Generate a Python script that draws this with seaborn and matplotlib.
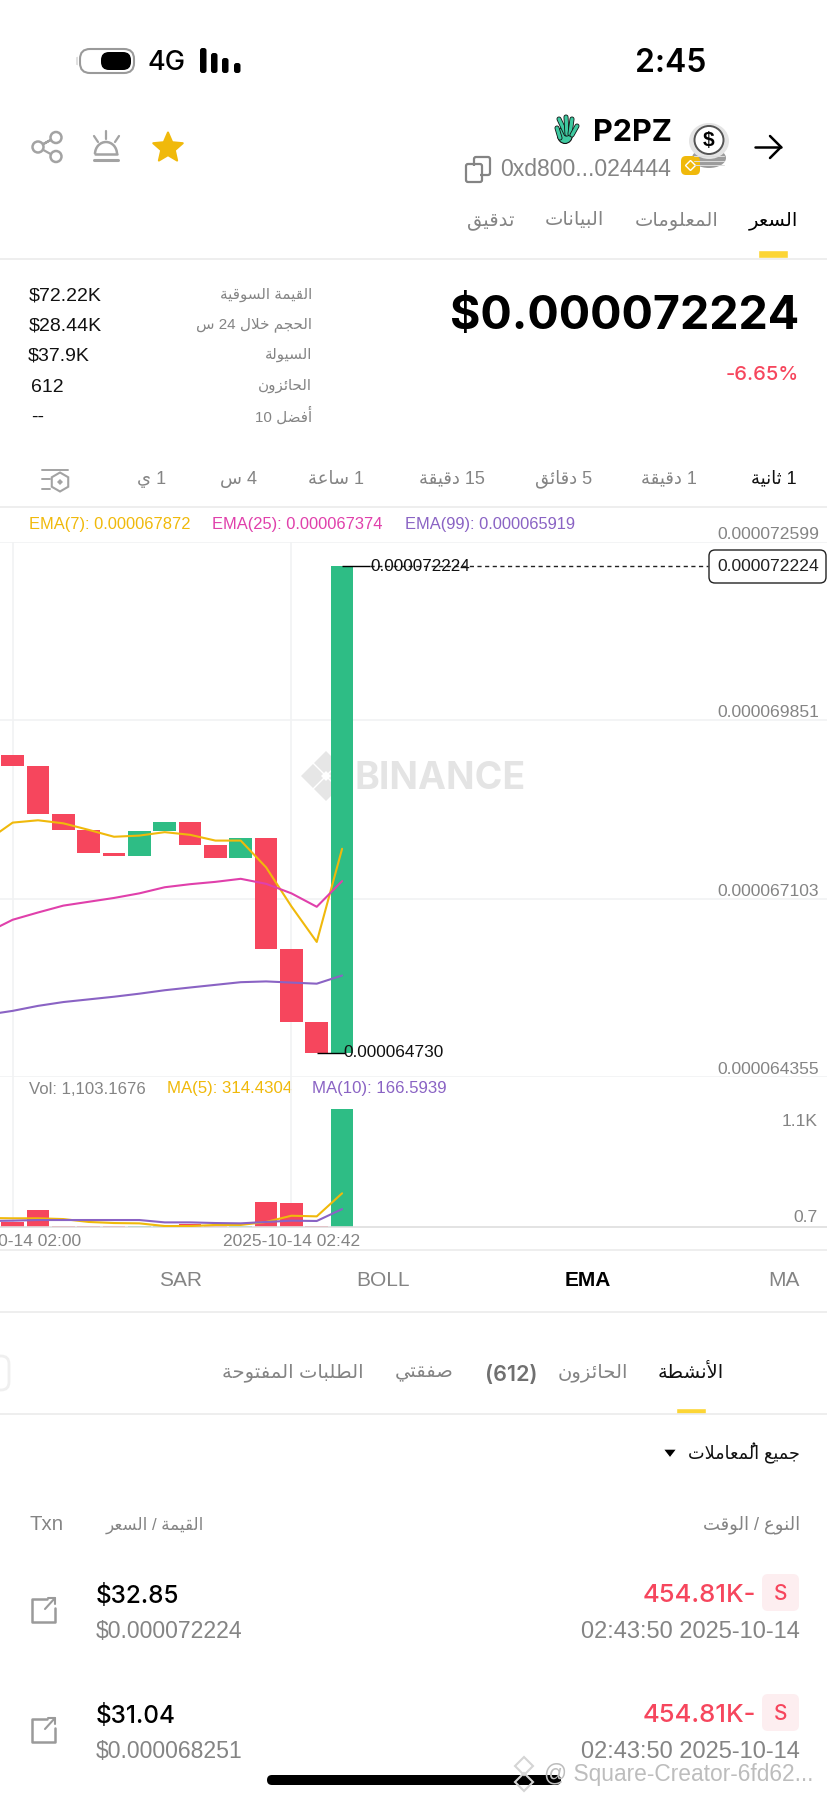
import re
import numpy as np
import pandas as pd
import seaborn as sns
import matplotlib
matplotlib.use("Agg")
import matplotlib.pyplot as plt
from matplotlib.patches import FancyBboxPatch, Circle, Polygon, Arc, Ellipse, RegularPolygon

# ---------- data ----------
opens_nano  = [69313, 69142, 68411, 68158, 67804, 67757, 68140, 68287, 67933, 67727, 68034, 66324, 65197, 64730]
closes_nano = [69142, 68411, 68158, 67804, 67757, 68140, 68287, 67933, 67727, 68034, 66324, 65197, 64730, 72224]
candle_idx = list(range(14))
ema_idx = list(range(-1, 14))
ema7_nano  = [68000, 68275, 68311, 68264, 68163, 68057, 68075, 68128, 68087, 67998, 67998, 67586, 66984, 66436, 67872]
ema25_nano = [66583, 66778, 66890, 66996, 67055, 67114, 67185, 67279, 67326, 67362, 67409, 67332, 67185, 66978, 67374]
ema99_nano = [65315, 65374, 65451, 65510, 65551, 65592, 65639, 65692, 65734, 65775, 65816, 65828, 65810, 65793, 65919]
volumes = [43, 158, 10, 7, 6, 8, 5, 30, 10, 8, 232, 223, 10, 1103]
ma5_vol  = [84, 81, 81, 74, 47, 37, 34, 9, 9, 19, 19, 47, 105, 99, 314]
ma10_vol = [56, 59, 65, 65, 65, 65, 65, 43, 43, 37, 34, 47, 59, 56, 167]
price_ticks_nano = [72599, 69851, 67103, 64355]
price_tick_labels = ["0.000072599", "0.000069851", "0.000067103", "0.000064355"]
time_tick_idx = [0, 11]
time_tick_labels = ["2025-10-14 02:00", "2025-10-14 02:42"]
high_nano, low_nano = 72224, 64730

RED, GREEN = "#f6465d", "#2ebd85"
YEL, PINK, PURP = "#f0b90b", "#e040ab", "#8a63c4"
GRID = "#f1f2f3"
GREY = "#848484"
W, H = 828, 1800

sns.set_theme(style="white")
plt.rcParams["font.family"] = ["Liberation Sans", "DejaVu Sans"]

# ---------- minimal Arabic shaping (matplotlib has no shaper) ----------
FORMS = {"ء":(0xFE80,1),"آ":(0xFE81,2),"أ":(0xFE83,2),"ؤ":(0xFE85,2),"إ":(0xFE87,2),"ئ":(0xFE89,4),"ا":(0xFE8D,2),
 "ب":(0xFE8F,4),"ة":(0xFE93,2),"ت":(0xFE95,4),"ث":(0xFE99,4),"ج":(0xFE9D,4),"ح":(0xFEA1,4),"خ":(0xFEA5,4),"د":(0xFEA9,2),
 "ذ":(0xFEAB,2),"ر":(0xFEAD,2),"ز":(0xFEAF,2),"س":(0xFEB1,4),"ش":(0xFEB5,4),"ص":(0xFEB9,4),"ض":(0xFEBD,4),"ط":(0xFEC1,4),
 "ظ":(0xFEC5,4),"ع":(0xFEC9,4),"غ":(0xFECD,4),"ف":(0xFED1,4),"ق":(0xFED5,4),"ك":(0xFED9,4),"ل":(0xFEDD,4),"م":(0xFEE1,4),
 "ن":(0xFEE5,4),"ه":(0xFEE9,4),"و":(0xFEED,2),"ى":(0xFEEF,2),"ي":(0xFEF1,4)}
LAMALEF = {"ا":0xFEFB,"أ":0xFEF7,"آ":0xFEF5,"إ":0xFEF9}
MARK = "\u064f"

def shape_run(s):
    units = []
    i = 0
    while i < len(s):
        c = s[i]
        if c == MARK and units:
            units[-1][3] = MARK
        elif c == "ل" and i + 1 < len(s) and s[i + 1] in LAMALEF:
            units.append([LAMALEF[s[i + 1]], 2, True, ""])
            i += 1
        elif c in FORMS:
            b, n = FORMS[c]
            units.append([b, n, True, ""])
        else:
            units.append([c, 0, False, ""])
        i += 1
    out = []
    for k, (b, n, ar_, m) in enumerate(units):
        if not ar_:
            out.append(b)
            continue
        prev = units[k - 1] if k else None
        nxt = units[k + 1] if k + 1 < len(units) else None
        jp = prev is not None and prev[2] and prev[1] == 4
        jn = nxt is not None and nxt[2] and n == 4
        idx = (1 if jp else 0) if not jn else (3 if jp else 2)
        if n == 1:
            idx = 0
        out.append(chr(b + idx) + m)
    return "".join(reversed(out))

def ar(s):
    runs = re.findall(r"[0-9(),.%$]+|[^0-9(),.%$]+", s)
    return "".join(r if re.match(r"[0-9(),.%$]", r) else shape_run(r) for r in reversed(runs))

# ---------- figure + layers ----------
fig = plt.figure(figsize=(W / 100, H / 100), dpi=100, facecolor="white")
ui = fig.add_axes([0, 0, 1, 1], zorder=0)
ui.set_xlim(0, W); ui.set_ylim(H, 0); ui.axis("off")

def T(x, y, s, size, color="black", ha="left", weight="normal", family=None, **kw):
    if family is not None:
        kw["family"] = family
    return ui.text(x, y, s, fontsize=size, color=color, ha=ha, va="center", fontweight=weight, **kw)

def hline(y, x0=0, x1=W, c="#ebebeb", lw=1.2):
    ui.plot([x0, x1], [y, y], color=c, lw=lw, solid_capstyle="butt")

def rrect(x0, y0, x1, y1, r, fc="none", ec="none", lw=1.5, **kw):
    ui.add_patch(FancyBboxPatch((x0 + r, y0 + r), x1 - x0 - 2 * r, y1 - y0 - 2 * r,
                                boxstyle=f"round,pad={r},rounding_size={r}", fc=fc, ec=ec, lw=lw, **kw))

def pl(xs, ys, c, lw=1.6, **kw):
    ui.plot(xs, ys, color=c, lw=lw, solid_capstyle="round", solid_joinstyle="round", **kw)

# status bar
rrect(80, 49, 134, 73, 10, ec="#9a9a9a", lw=1.5)
ui.add_patch(Polygon([[76, 57], [78, 55], [78, 67], [76, 65]], fc="#9a9a9a"))
rrect(101, 52, 131, 70, 8, fc="black")
T(148, 63, "4G", 19.5, family="Inter", weight="medium")
for x0, y0 in zip([200, 211, 222, 234], [48, 53, 58, 63]):
    rrect(x0, y0, x0 + 6.5, 73, 2.5, fc="black")
T(671, 64, "2:45", 23, ha="center", family="Inter", weight="semibold")

# header
pl([755, 781], [147, 147], "black", 1.8)
pl([770, 781, 770], [136, 147, 158], "black", 1.8)
ui.add_patch(Ellipse((709, 158), 34, 20, fc="#9c9c9c", ec="none"))
for yy in [156, 161, 165]:
    pl([694, 724], [yy, yy], "#dcdcdc", 0.7)
ui.add_patch(Ellipse((709, 141), 40, 36, fc="#e4e4e4", ec="none"))
ui.add_patch(Ellipse((709, 140), 29, 28, fc="white", ec="#555555", lw=1.4))
T(709, 140, "$", 15, ha="center", weight="bold")
rrect(681, 156, 700, 175, 5, fc="#f0b90b")
ui.add_patch(RegularPolygon((690.5, 165.5), 4, radius=5, fc="none", ec="white", lw=1))
# hand emoji
for xs, ys in [([566, 559], [134, 119]), ([567, 566], [134, 117]), ([570, 572], [134, 119]), ([572, 577], [135, 126]), ([560, 557], [138, 128])]:
    pl(xs, ys, "#111111", 3.6); pl(xs, ys, "#3ec9a0", 2.4)
ui.add_patch(Ellipse((565, 135), 15, 17, fc="#3ec9a0", ec="#111111", lw=0.8))
T(593, 133, "P2PZ", 22, weight="bold", family="Inter")
T(500, 170, "0xd800...024444", 16.6, GREY)
rrect(474, 157, 490, 175, 2, ec=GREY, lw=1.6)
ui.add_patch(FancyBboxPatch((468, 166), 12, 14, boxstyle="round,pad=0", fc="white", ec="none", zorder=2.5))
rrect(466, 164, 482, 182, 2, ec=GREY, lw=1.6, zorder=3)
# share / alert / star
S = "#a3a3a3"
pl([38, 56, 38], [147, 137, 147], S, 1.6); pl([38, 56], [147, 157], S, 1.6)
for cx, cy, r in [(38, 147, 5.5), (56, 137.5, 5.5), (56, 156.5, 5.5)]:
    ui.add_patch(Circle((cx, cy), r, fc="white", ec=S, lw=1.8, zorder=3))
ui.add_patch(Arc((106, 154), 22, 24, theta1=180, theta2=360, ec=S, lw=1.8))
pl([95, 117], [154, 154], S, 1.8); pl([94, 118], [160, 160], S, 2.2)
pl([106, 106], [131, 139], S, 1.6); pl([94, 98], [136, 142], S, 1.6); pl([119, 115], [136, 142], S, 1.6)
ang = np.deg2rad(np.arange(0, 360, 36) + 90)
rad = np.array([1, .46] * 5)
ui.add_patch(Polygon(np.c_[168 + 15.5 * rad * np.cos(ang), 148 - 15.5 * rad * np.sin(ang)], fc=YEL, ec=YEL, lw=1.5, joinstyle="round"))

# tabs
for xr, s, c in zip([798, 719, 604, 514], ["السعر", "المعلومات", "البيانات", "تدقيق"], ["black", GREY, GREY, GREY]):
    T(xr, 221, ar(s), 14, c, ha="right")
hline(259)
ui.add_patch(plt.Rectangle((758, 250), 30, 8, fc="#fcd535"))

# stats
for y, v, x, lab in zip([296, 326, 356, 387, 417], ["$72.22K", "$28.44K", "$37.9K", "612", "--"], [29, 29, 28, 31, 31],
                        ["القيمة السوقية", "الحجم خلال 24 س", "السيولة", "الحائزون", "أفضل 10"]):
    T(x, y, v, 14, "#111111")
    T(312, y - 1, ar(lab), 10.9, GREY, ha="right")
T(799, 317, "$0.000072224", 33.5, ha="right", weight="bold", family="Inter")
T(799, 375, "-6.65%", 14.5, RED, ha="right", weight="medium", family="Inter")

# intervals
for xr, s, c in zip([797, 697, 592, 485, 364, 257, 166],
                    ["1 ثانية", "1 دقيقة", "5 دقائق", "15 دقيقة", "1 ساعة", "4 س", "1 ي"],
                    ["#111111"] + [GREY] * 6):
    T(xr, 479, ar(s), 13, c, ha="right")
ic = "#a3a3a3"
pl([42, 68], [470, 470], ic, 1.4); pl([42, 50], [479, 479], ic, 1.4); pl([42, 50], [489, 489], ic, 1.4)
ui.add_patch(RegularPolygon((60, 482), 6, radius=9.5, fc="white", ec=ic, lw=1.5))
ui.add_patch(RegularPolygon((60, 482), 4, radius=3, fc=ic, ec="none"))
hline(507)

# watermark
for cx, cy in [(313, 776), (326, 763), (326, 789), (339, 776)]:
    ui.add_patch(RegularPolygon((cx, cy), 4, radius=12, fc="#e6e6e6", ec="none"))
ui.add_patch(RegularPolygon((326, 776), 4, radius=5, fc="white", ec="none"))
T(355, 779, "BINANCE", 27, "#e4e4e4", weight="bold", family="Inter")

# legends
for x, s, c in zip([29, 212, 405.5], ["EMA(7): 0.000067872", "EMA(25): 0.000067374", "EMA(99): 0.000065919"], [YEL, PINK, PURP]):
    T(x, 524, s, 11.9, c)
for x, s, c in zip([29, 167, 312], ["Vol: 1,103.1676", "MA(5): 314.4304", "MA(10): 166.5939"], [GREY, YEL, PURP]):
    T(x, 1089, s, 12.1, c)

# ---------- chart axes ----------
def px_axes(y0, y1):
    a = fig.add_axes([0, 1 - y1 / H, 1, (y1 - y0) / H], zorder=1)
    a.patch.set_alpha(0)
    a.set_xlim(-12.67 / 25.34, (W - 12.67) / 25.34)
    for s in a.spines.values():
        s.set_visible(False)
    return a

ax = px_axes(542, 1077)
ax.set_ylim(price_ticks_nano[-1], price_ticks_nano[0])
bottoms = np.minimum(opens_nano, closes_nano)
heights = np.abs(np.subtract(closes_nano, opens_nano))
cols = [GREEN if c > o else RED for o, c in zip(opens_nano, closes_nano)]
ax.bar(candle_idx, heights, bottom=bottoms, width=0.9, color=cols, linewidth=0, zorder=2)
for vals, c in zip([ema7_nano, ema25_nano, ema99_nano], [YEL, PINK, PURP]):
    sns.lineplot(x=ema_idx, y=vals, ax=ax, color=c, lw=1.5, errorbar=None, zorder=3)
ax.set_xticks(time_tick_idx); ax.set_xticklabels([])
ax.set_yticks(price_ticks_nano); ax.set_yticklabels(price_tick_labels)
ax.yaxis.tick_right()
ax.tick_params(axis="y", length=0, pad=-6.5, labelsize=12.6, labelcolor=GREY)
ax.tick_params(axis="x", length=0)
for l in ax.get_yticklabels():
    l.set_ha("right"); l.set_va("bottom")
ax.grid(True, color=GRID, lw=1.2); ax.set_axisbelow(True)
ax.set_xlabel(""); ax.set_ylabel("")
# high / low markers
ax.hlines(high_nano, 13, 14.12, color="black", lw=1, zorder=4)
ax.hlines(high_nano, 14.12, 27.44, color="#222222", lw=1, linestyles=(0, (3, 2.5)), zorder=4)
ax.hlines(low_nano, 12, 13.1, color="black", lw=1, zorder=4)
ax.text(14.12, high_nano, "0.000072224", fontsize=12.3, color="#111111", va="center", ha="left", zorder=5)
ax.text(13.04, low_nano, "0.000064730", fontsize=12.4, color="#111111", va="center", ha="left", zorder=5)
rrect(709, 550, 826, 583, 6, fc="white", ec="#222222", lw=1)
ax.text(27.82, high_nano, "0.000072224", fontsize=12.6, color="#222222", va="center", ha="left", zorder=5)

vax = px_axes(1077, 1227)
frame = pd.DataFrame({"i": candle_idx, "v": volumes, "k": ["up" if c == GREEN else "dn" for c in cols]})
sns.barplot(data=frame, x="i", y="v", hue="k", palette={"up": GREEN, "dn": RED}, native_scale=True,
            dodge=False, width=0.9, gap=0, linewidth=0, legend=False, ax=vax, zorder=2, saturation=1)
sns.lineplot(x=ema_idx, y=ma5_vol, ax=vax, color=YEL, lw=1.5, errorbar=None, zorder=3)
sns.lineplot(x=ema_idx, y=ma10_vol, ax=vax, color=PURP, lw=1.5, errorbar=None, zorder=3)
vax.set_xlim(-12.67 / 25.34, (W - 12.67) / 25.34)
vax.set_ylim(0, 1398)
vax.set_xticks(time_tick_idx); vax.set_xticklabels(time_tick_labels)
vax.tick_params(axis="x", length=0, pad=5, labelsize=12.5, labelcolor=GREY)
vax.set_yticks([])
T(818, 1121, "1.1K", 12.6, GREY, ha="right")
T(818, 1217, "0.7", 12.6, GREY, ha="right")
vax.grid(True, axis="x", color=GRID, lw=1.2); vax.grid(False, axis="y"); vax.set_axisbelow(True)
vax.set_xlabel(""); vax.set_ylabel("")
vax.spines["bottom"].set_visible(True); vax.spines["bottom"].set_color("#dedede"); vax.spines["bottom"].set_linewidth(1.2)
hline(1250)

# indicators
for x, s, c, w in zip([800, 588, 383, 181], ["MA", "EMA", "BOLL", "SAR"], [GREY, "black", GREY, GREY], ["normal", "bold", "normal", "normal"]):
    T(x, 1281, s, 15, c, ha="right" if s == "MA" else "center", weight=w)
hline(1311.5)

# activity tabs
rrect(-20, 1356, 9, 1390, 8, ec="#efefef", lw=2)
for xr, s, c in zip([724, 628, 454, 364], ["الأنشطة", "الحائزون", "صفقتي", "الطلبات المفتوحة"], ["#111111", GREY, GREY, GREY]):
    T(xr, 1373, ar(s), 14, c, ha="right")
T(485, 1375, "(612)", 15.5, "#707070", weight="semibold", family="Inter")
hline(1414)
ui.add_patch(plt.Rectangle((676, 1408), 30, 6, fc="#fcd535"))
T(800, 1453, ar("جميع المُعاملات"), 12.7, "#111111", ha="right")
ui.add_patch(Polygon([[663, 1449], [677, 1449], [670, 1458]], fc="black"))
T(800, 1525, ar("النوع / الوقت"), 13, GREY, ha="right")
T(204, 1525, ar("القيمة / السعر"), 12.1, GREY, ha="right")
T(30, 1525, "Txn", 14.7, GREY)

# rows
values = ["$32.85", "$31.04"]
prices = ["$0.000072224", "$0.000068251"]
for dy, v, p in zip([0, 120], values, prices):
    T(96, 1596 + dy, v, 17.5, weight="medium", family="Inter")
    T(96, 1632 + dy, p, 16.6, GREY)
    T(756, 1596 + dy, "454.81K-", 18.5, RED, ha="right", weight="medium", family="Inter")
    T(800, 1632 + dy, "02:43:50 2025-10-14", 17, GREY, ha="right")
    rrect(762, 1574 + dy, 799, 1611 + dy, 6, fc="#fdeef0")
    T(780.5, 1594 + dy, "S", 15, RED, ha="center", weight="medium", family="Inter")
    pl([47, 32, 32, 55, 55], [1599 + dy, 1599 + dy, 1622 + dy, 1622 + dy, 1608 + dy], "#9a9a9a", 1.8)
    pl([45, 55], [1609 + dy, 1598 + dy], "#9a9a9a", 1.5)
    pl([48, 55, 55], [1598 + dy, 1598 + dy, 1604 + dy], "#9a9a9a", 1.5)

# home bar + footer watermark
rrect(267, 1775, 561, 1785, 5, fc="black")
for cx, cy in [(524, 1766), (524, 1782)]:
    ui.add_patch(RegularPolygon((cx, cy), 4, radius=9, fc="none", ec="#d5d5d5", lw=1.5, zorder=4))
T(544, 1775, "@ Square-Creator-6fd62...", 16.4, "#bdbdbd", zorder=4)

fig.savefig("out.png", dpi=100, facecolor="white")
